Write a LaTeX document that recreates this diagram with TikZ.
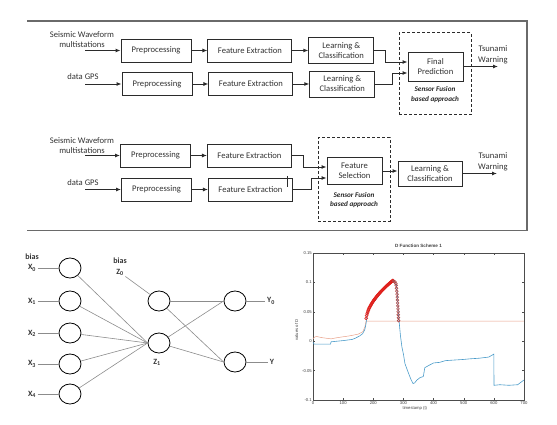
\documentclass[tikz,border=0pt]{standalone}
\usepackage{fontspec}
\setmainfont{Carlito}
\newfontfamily\plotfont{Liberation Sans}
\usepackage{tikz}
\usetikzlibrary{shapes.geometric, arrows.meta, positioning}

\definecolor{edge}{HTML}{2B2B2B}
\definecolor{framegray}{HTML}{6A6A6A}
\definecolor{netgray}{HTML}{8C8C8C}
\definecolor{dblue}{HTML}{4A9BC9}
\definecolor{dorange}{HTML}{E8A088}
\definecolor{dred}{HTML}{E0201C}
\definecolor{ddred}{HTML}{B04848}

\begin{document}
\begin{tikzpicture}[x=1pt, y=-1pt,
    box/.style={draw=edge, line width=0.9pt, fill=white, minimum height=23pt,
                align=center, inner sep=1pt, text=black!80,
                font=\fontsize{8.6}{10}\selectfont},
    arr/.style={-{Latex[length=5pt,width=4pt]}, line width=0.9pt, draw=edge},
    fusebox/.style={draw=edge, line width=1pt, dash pattern=on 3pt off 2pt,
                    minimum width=72pt},
    fusetext/.style={font=\fontsize{7.2}{9.4}\selectfont\bfseries\itshape,
                     align=center, text=black!85},
    lbl/.style={font=\fontsize{8.6}{10.6}\selectfont, align=center, text=black!80},
    neuron/.style={draw=black, ellipse, line width=0.8pt, minimum width=22pt,
                   minimum height=20pt, inner sep=0pt},
    wire/.style={draw=netgray, line width=0.6pt},
    nlab/.style={font=\fontsize{8}{9}\selectfont\bfseries, text=black!80, inner sep=1.5pt},
    ticklab/.style={font=\plotfont\fontsize{4.2}{5}\selectfont, inner sep=1pt, text=black!75},
    dot/.style={line width=0.6pt},
]
    \useasboundingbox (0,0) rectangle (557,425);

    \draw[framegray, line width=1.1pt] (27,21) -- (527,21) -- (527,230.5) -- (27,230.5);

    % scheme with final prediction
    \node[lbl] (src1) at (82,39.5) {Seismic Waveform\\multistations};
    \node[lbl] (src2) at (83,77) {data GPS};
    \coordinate (in1) at (85,50.5);
    \coordinate (in2) at (85,84);
    \node[box, minimum width=70pt] (pre1) at (156,50.5) {Preprocessing};
    \node[box, minimum width=84pt, right=16pt of pre1] (fe1) {Feature Extraction};
    \node[box, minimum width=65pt, minimum height=26pt, right=16pt of fe1] (lc1) {Learning \&\\Classification};
    \node[box, minimum width=70pt] (pre2) at (157,84) {Preprocessing};
    \node[box, minimum width=84pt, right=16pt of pre2] (fe2) {Feature Extraction};
    \node[box, minimum width=65pt, minimum height=26pt, right=16pt of fe2] (lc2) {Learning \&\\Classification};
    \node[fusebox, minimum height=82pt] (fuse1) at (435,74) {};
    \node[box, minimum width=55pt, minimum height=29pt] (fp) at (435.5,66.5) {Final\\Prediction};
    \node[fusetext] (sf1) at (435,94.5) {Sensor Fusion\\based approach};
    \node[lbl] (warn1) at (493,54.5) {Tsunami\\Warning};
    \coordinate (warn1end) at (498,66.5);
    \draw[arr] (in1) -- (pre1);
    \draw[arr] (pre1) -- (fe1);
    \draw[arr] (fe1) -- (lc1);
    \draw[arr] (in2) -- (pre2);
    \draw[arr] (pre2) -- (fe2);
    \draw[arr] (fe2) -- (lc2);
    \draw[arr] (lc1.east) -- ++(11,0) |- ([yshift=4.5pt]fp.west);
    \draw[arr] (lc2.east) -- ++(17,0) |- ([yshift=-6.5pt]fp.west);
    \draw[arr] (fp) -- (warn1end);

    % scheme with feature selection
    \node[lbl] (src3) at (82,145.5) {Seismic Waveform\\multistations};
    \node[lbl] (src4) at (83,183) {data GPS};
    \coordinate (in3) at (85,155.5);
    \coordinate (in4) at (85,189.5);
    \node[box, minimum width=70pt] (pre3) at (155.5,155.5) {Preprocessing};
    \node[box, minimum width=84pt, right=16pt of pre3] (fe3) {Feature Extraction};
    \node[box, minimum width=70pt] (pre4) at (156.5,189.5) {Preprocessing};
    \node[box, minimum width=84pt, right=16pt of pre4] (fe4) {Feature Extraction};
    \node[fusebox, minimum height=83pt] (fuse2) at (354,179.5) {};
    \node[box, minimum width=55pt, minimum height=27pt] (fs) at (354.5,171) {Feature\\Selection};
    \node[fusetext] (sf2) at (354,200) {Sensor Fusion\\based approach};
    \node[box, minimum width=64pt, minimum height=25pt] (lc3) at (430,173.5) {Learning \&\\Classification};
    \node[lbl] (warn2) at (493,162) {Tsunami\\Warning};
    \coordinate (warn2end) at (497,173.5);
    \draw[arr] (in3) -- (pre3);
    \draw[arr] (pre3) -- (fe3);
    \draw[arr] (in4) -- (pre4);
    \draw[arr] (pre4) -- (fe4);
    \draw[edge, line width=0.7pt] (287,176) -- (287,187);
    \draw[arr] (fe3.east) -- ++(12,0) |- ([yshift=4pt]fs.west);
    \draw[arr] (fe4.east) -- ++(19,0) |- ([yshift=-7pt]fs.west);
    \draw[arr] (fs) -- (fs -| lc3.west);
    \draw[arr] (lc3) -- (warn2end);

    % network
    \node[nlab] (biasx) at (32,257) {bias};
    \foreach \i/\yy in {0/268,1/301,2/333,3/364,4/394} {
        \node[neuron] (x\i) at (70,\yy) {};
        \node[nlab] (xl\i) at (32,\yy) {X\textsubscript{\i}};
        \draw[wire] (xl\i) -- (x\i);
    }
    \node[neuron] (z0) at (159,301) {};
    \node[neuron] (z1) at (159,343) {};
    \node[nlab] (biasz) at (120,261) {bias};
    \node[nlab] (zl0) at (120,272.5) {Z\textsubscript{0}};
    \node[nlab] (zl1) at (157,362) {Z\textsubscript{1}};
    \node[neuron] (y0) at (235,301) {};
    \node[neuron] (y1) at (235,362) {};
    \node[nlab] (yl0) at (271,301) {Y\textsubscript{0}};
    \node[nlab] (yl1) at (272,362) {Y};
    \foreach \i in {0,...,4}
        \draw[wire] (x\i) -- (z1.west);
    \draw[wire] (zl0) -- (z0);
    \draw[wire] (z0) -- (y0);
    \draw[wire] (z0) -- (y1.west);
    \draw[wire] (z1) -- (y0.west);
    \draw[wire] (z1) -- (y1.west);
    \draw[wire] (y0) -- (yl0);
    \draw[wire] (y1) -- (yl1);

    % D function plot
    \begin{scope}[shift={(313,341.2)}, x=0.3014pt, y=588pt]
        \draw[black!70, line width=0.4pt] (0,-0.1) rectangle (700,0.15);
        \foreach \t in {0,100,...,700} {
            \draw[black!70, line width=0.3pt] (\t,-0.1) -- ++(0,0.004);
            \draw[black!70, line width=0.3pt] (\t,0.15) -- ++(0,-0.004);
            \node[ticklab, below] (xt\t) at (\t,-0.1) {\t};
        }
        \foreach \v [count=\k] in {-0.1,-0.05,0,0.05,0.1,0.15} {
            \draw[black!70, line width=0.3pt] (0,\v) -- ++(7,0);
            \draw[black!70, line width=0.3pt] (700,\v) -- ++(-7,0);
            \node[ticklab, left] (yt\k) at (0,\v) {\v};
        }
        \node[ticklab, font=\plotfont\bfseries\fontsize{4.6}{5}\selectfont] (ptitle) at (350,0.162) {D Function Scheme 1};
        \node[ticklab] (pxlab) at (338,-0.115) {timestamp (t)};
        \node[ticklab, rotate=90] (pylab) at (-54,0.019) {values of D};
        \draw[dorange, line width=0.5pt] plot coordinates {(0,0.004) (5,0.007) (12,0.008)
            (30,0.006) (60,0.004) (80,0.006) (120,0.009) (150,0.012) (165,0.016)
            (172,0.024) (176,0.034) (700,0.034)};
        \draw[dblue, line width=0.6pt] plot coordinates {(0,-0.002) (4,-0.005) (58,-0.005)
            (60,-0.001) (100,0.001) (130,0.003) (140,0.005) (155,0.009) (165,0.013)
            (172,0.02) (176,0.03) (180,0.046) (190,0.057) (200,0.065) (215,0.075)
            (230,0.085) (245,0.093) (255,0.098) (262,0.102) (270,0.102) (274,0.1)
            (277,0.095) (280,0.08) (282,0.06) (284,0.04) (286,0.032) (290,0.01)
            (295,-0.01) (300,-0.022) (305,-0.038) (315,-0.052) (325,-0.065)
            (332,-0.072) (337,-0.071) (345,-0.066) (355,-0.062) (366,-0.06)
            (371,-0.045) (385,-0.041) (400,-0.037) (420,-0.036) (440,-0.033)
            (470,-0.032) (500,-0.031) (520,-0.03) (550,-0.029) (583,-0.027)
            (600,-0.022) (600.5,-0.075) (620,-0.074) (650,-0.075) (679,-0.074)
            (700,-0.066)};
        \foreach \t in {176.5,178,...,266} {
            \pgfmathsetmacro\dv{0.035+0.067*((\t-176)/86)^0.55}
            \draw[dot, dred] (\t,\dv) circle[radius=1.5pt];
        }
        \foreach \t/\v in {268/0.102, 272/0.101, 275/0.098, 276/0.095, 277/0.09,
            278/0.085, 278.8/0.08, 279.5/0.075, 280.2/0.07, 280.8/0.065,
            281.4/0.06, 282/0.055, 282.5/0.05, 283/0.045, 283.5/0.04, 284/0.035}
            \draw[dot, ddred] (\t,\v) circle[radius=1.4pt];
    \end{scope}
\end{tikzpicture}
\end{document}
